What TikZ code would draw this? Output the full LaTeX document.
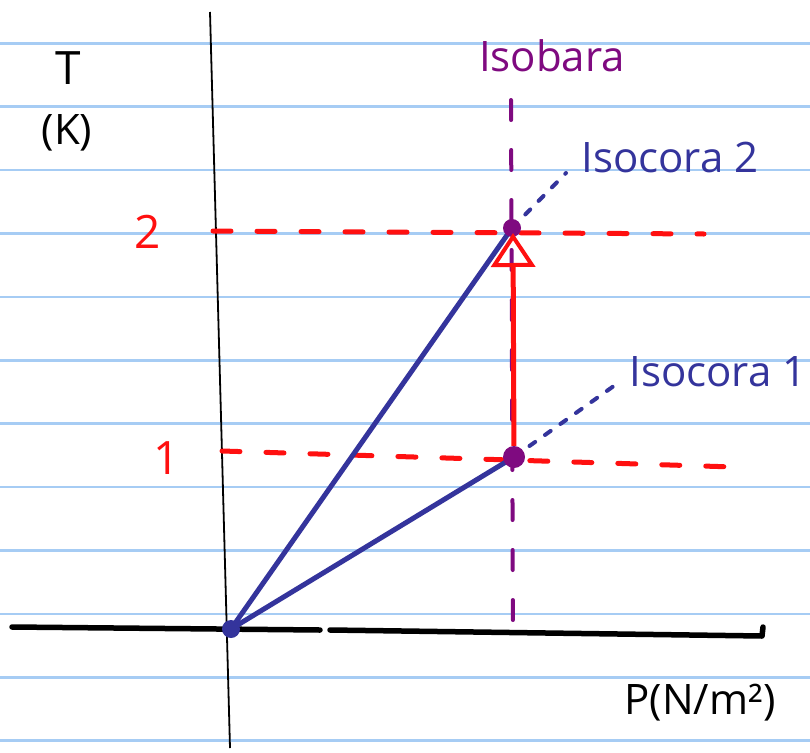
\documentclass[tikz,border=0pt]{standalone}
\usepackage{fontspec}
\setmainfont{Open Sans}
\usetikzlibrary{arrows.meta}
\definecolor{paperline}{HTML}{A6CCF4}
\definecolor{inkblue}{HTML}{34349C}
\definecolor{inkpurple}{HTML}{7F0A80}
\definecolor{inkred}{HTML}{FF1010}
\begin{document}
\begin{tikzpicture}[x=1pt,y=-1pt,
  dot/.style={circle, inner sep=0pt, draw=none},
  reddash/.style={inkred, line width=5, line cap=round, dash pattern=on 18pt off 26pt},
  isobar/.style={inkpurple, line width=4, line cap=round, dash pattern=on 20pt off 30pt},
  isochor/.style={inkblue, line width=4, line cap=round, dash pattern=on 7pt off 12pt},
  curve/.style={inkblue, line width=5, line cap=round},
  lab/.style={inner sep=0pt, font=\fontsize{42}{46}\selectfont}
]
\useasboundingbox (0,0) rectangle (810,752);
\fill[white] (0,0) rectangle (810,752);
\foreach \k in {0,...,11} \draw[paperline, line width=2.5] (0,{43.3+63.4*\k}) -- (810,{43.3+63.4*\k});

% coordinates
\coordinate (O) at (231,629);
\coordinate (A) at (514,457);
\coordinate (B) at (512,228);
\coordinate (tip) at (513,233);
\coordinate (vtop) at (210,12);
\coordinate (vbot) at (230,748);
\coordinate (hl) at (12,627);
\coordinate (hg1) at (320,630);
\coordinate (hg2) at (330,630);
\coordinate (hr) at (762,636);
\coordinate (hrt) at (763,627);
\coordinate (isotop) at (511,100);
\coordinate (isobot) at (513,640);
\coordinate (r2l) at (213,231);
\coordinate (r2r) at (704,234);
\coordinate (r1l) at (222,451);
\coordinate (r1r) at (734,467);
\coordinate (i1end) at (618,383);
\coordinate (i2end) at (566,173);

% axes
\draw[black, line width=1.8] (vtop) -- (vbot);
\draw[black, line width=5.5, line cap=round] (hl) -- (hg1);
\draw[black, line width=5.5, line cap=round, line join=round] (hg2) -- (hr) -- (hrt);

% guide lines
\draw[isobar] (isotop) -- (isobot);
\draw[reddash] (r2l) -- (r2r);
\draw[reddash] (r1l) -- (r1r);
\draw[isochor] (A) -- (i1end);
\draw[isochor] (B) -- (i2end);

% isochores
\draw[curve] (O) -- (B);
\draw[curve] (O) -- (A);

% points
\node[dot, fill=inkblue, minimum size=18pt] (Od) at (O) {};
\node[dot, fill=inkpurple, minimum size=22pt] (Ad) at (A) {};
\node[dot, fill=inkpurple, minimum size=18pt] (Bd) at (B) {};

% process arrow
\draw[inkred, line width=5, -{Triangle[open, length=34pt, width=44pt, line width=4pt]}] (Ad) -- (tip);

% labels
\node[lab, font=\fontsize{46}{50}\selectfont] (T) at (68,68) {T};
\node[lab] (K) at (67,133) {(K)};
\node[lab] (P) at (700,703) {P(N/m²)};
\node[lab, inkred, font=\fontsize{46}{50}\selectfont] (two) at (148,232) {2};
\node[lab, inkred, font=\fontsize{46}{50}\selectfont] (one) at (167,458) {1};
\node[lab, inkpurple] (isob) at (552,56) {Isobara};
\node[lab, inkblue] (ic2) at (670,157) {Isocora 2};
\node[lab, inkblue] (ic1) at (718,372) {Isocora 1};
\end{tikzpicture}
\end{document}
